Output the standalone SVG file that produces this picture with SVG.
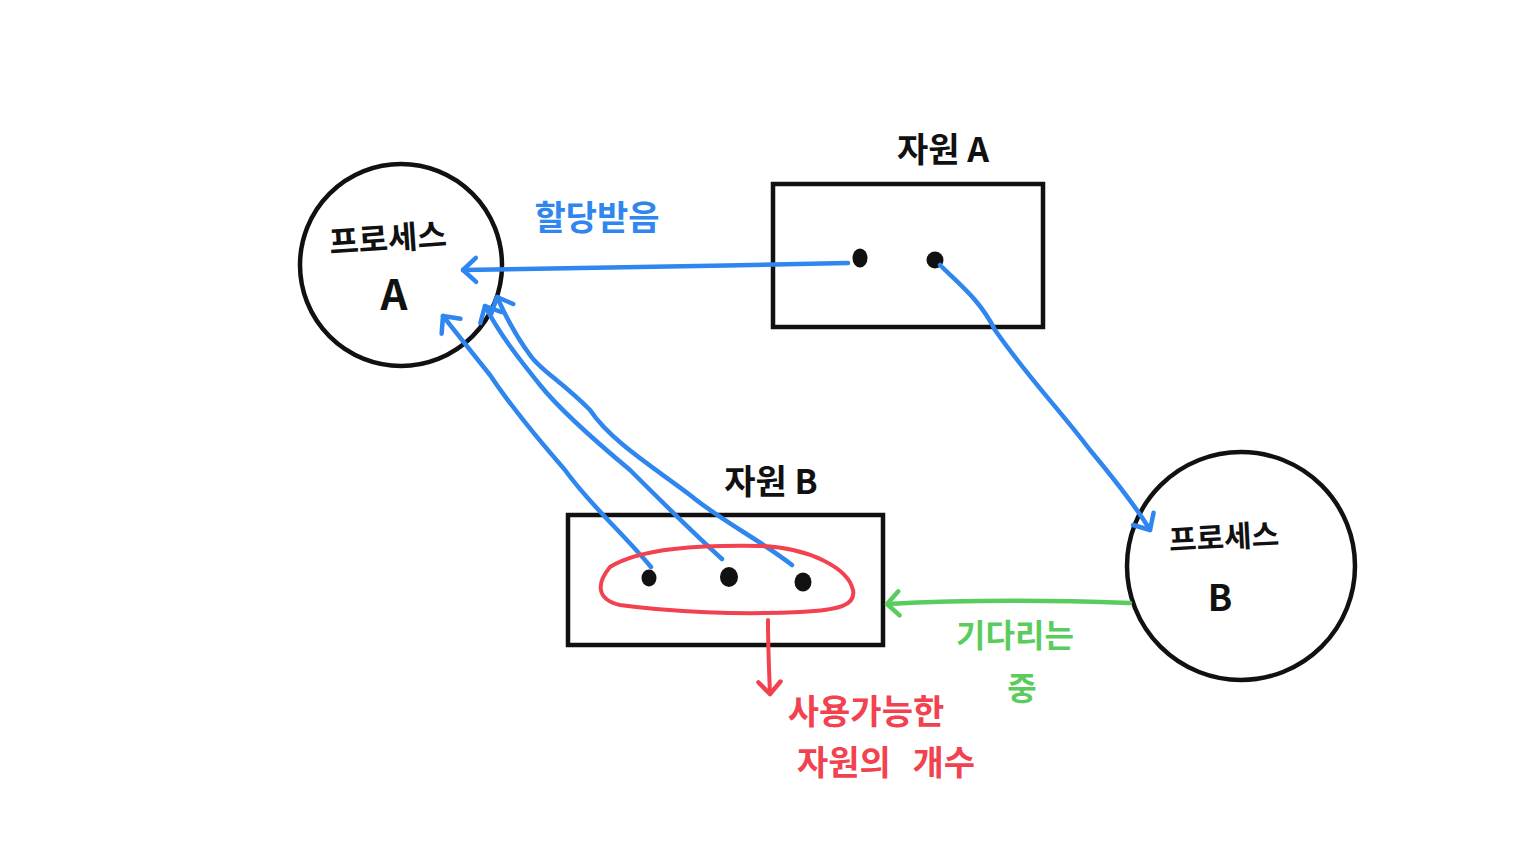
<svg xmlns="http://www.w3.org/2000/svg" width="1536" height="850" viewBox="0 0 1536 850">
<style>
.node{fill:none;stroke:#111;stroke-width:4.5}
.dot{fill:#111}
.t{font-family:"Noto Sans CJK KR","Noto Sans",sans-serif;font-weight:700;text-anchor:middle}
.blk{fill:#111}
.blue{fill:#2f86ee}
.green{fill:#5acc5e}
.red{fill:#f2424f}
.cb{fill:none;stroke:#2f86ee;stroke-width:4.5;stroke-linecap:round;stroke-linejoin:round}
.cg{fill:none;stroke:#5acc5e;stroke-width:4.5;stroke-linecap:round}
.cr{fill:none;stroke:#f2424f;stroke-width:4;stroke-linecap:round}
.mh{fill:none;stroke-width:4.5;stroke-linecap:round;stroke-linejoin:round}
</style>
<defs>
<marker id="ab" viewBox="-20 -16 24 32" refX="0" refY="0" markerWidth="24" markerHeight="32" markerUnits="userSpaceOnUse" orient="auto" overflow="visible">
<path class="mh" d="M-13,-12 L0,0 L-13,12" stroke="#2f86ee"/>
</marker>
<marker id="ag" viewBox="-20 -16 24 32" refX="0" refY="0" markerWidth="24" markerHeight="32" markerUnits="userSpaceOnUse" orient="auto" overflow="visible">
<path class="mh" d="M-12,-12 L0,0 L-12,12" stroke="#5acc5e"/>
</marker>
<marker id="ar" viewBox="-20 -16 24 32" refX="0" refY="0" markerWidth="24" markerHeight="32" markerUnits="userSpaceOnUse" orient="auto" overflow="visible">
<path class="mh" d="M-12,-11 L0,0 L-12,11" stroke="#f2424f"/>
</marker>
</defs>
<rect width="1536" height="850" fill="#fff"/>

<g id="processA">
<circle class="node" cx="401" cy="265" r="101"/>
<text class="t blk" x="388" y="250" font-size="32" transform="rotate(-4 388 240)">프로세스</text>
<text class="t blk" x="394" y="310" font-size="42">A</text>
</g>

<g id="resourceA">
<rect class="node" x="773" y="184" width="270" height="143"/>
<text class="t blk" x="943" y="162" font-size="34">자원 A</text>
<ellipse class="dot" cx="860" cy="258" rx="7.5" ry="9.5"/>
<ellipse class="dot" cx="935" cy="260" rx="8.5" ry="8.5"/>
</g>

<g id="processB">
<circle class="node" cx="1241" cy="566" r="114"/>
<text class="t blk" x="1224" y="548" font-size="30" transform="rotate(-3 1224 538)">프로세스</text>
<text class="t blk" x="1220" y="611" font-size="36">B</text>
</g>

<g id="resourceB">
<rect class="node" x="568" y="515" width="315" height="130"/>
<text class="t blk" x="771" y="494" font-size="34">자원 B</text>
<ellipse class="dot" cx="649" cy="578" rx="7.5" ry="8.5"/>
<ellipse class="dot" cx="729" cy="577" rx="9" ry="10"/>
<ellipse class="dot" cx="803" cy="582" rx="8.5" ry="9.5"/>
</g>

<g id="labels">
<text class="t blue" x="597" y="230" font-size="34">할당받음</text>
<text class="t green" x="1015" y="647" font-size="32">기다리는</text>
<text class="t green" x="1022" y="700" font-size="32">중</text>
<text class="t red" x="866" y="724" font-size="34">사용가능한</text>
<text class="t red" x="886" y="775" font-size="34" word-spacing="14">자원의 개수</text>
</g>

<g id="connectors">
<path class="cb" d="M848,263 C720,266 600,268 463,270" marker-end="url(#ab)"/>
<path class="cb" d="M940,265 C960,285 980,300 995,330 C1030,380 1060,410 1090,450 C1115,480 1135,505 1150,530" marker-end="url(#ab)"/>
<path class="cb" d="M651,567 C620,530 590,505 565,470 C530,430 510,405 490,375 C470,350 458,335 443,316" marker-end="url(#ab)"/>
<path class="cb" d="M722,559 C690,530 660,500 630,470 C600,445 560,410 540,385 C520,360 500,335 485,306" marker-end="url(#ab)"/>
<path class="cb" d="M792,565 C760,540 720,520 690,495 C650,465 610,440 590,410 C560,380 540,370 530,355 C515,335 505,315 497,297" marker-end="url(#ab)"/>
<path class="cg" d="M1130,603 C1050,600 960,600 887,604" marker-end="url(#ag)"/>
<path class="cr" d="M610,567 C640,548 700,545 760,546 C810,548 848,568 853,590 C856,605 840,610 800,612 C740,615 670,612 620,605 C598,600 595,585 610,567 Z"/>
<path class="cr" d="M768,620 C768,645 769,670 770,694" marker-end="url(#ar)"/>
</g>
</svg>
